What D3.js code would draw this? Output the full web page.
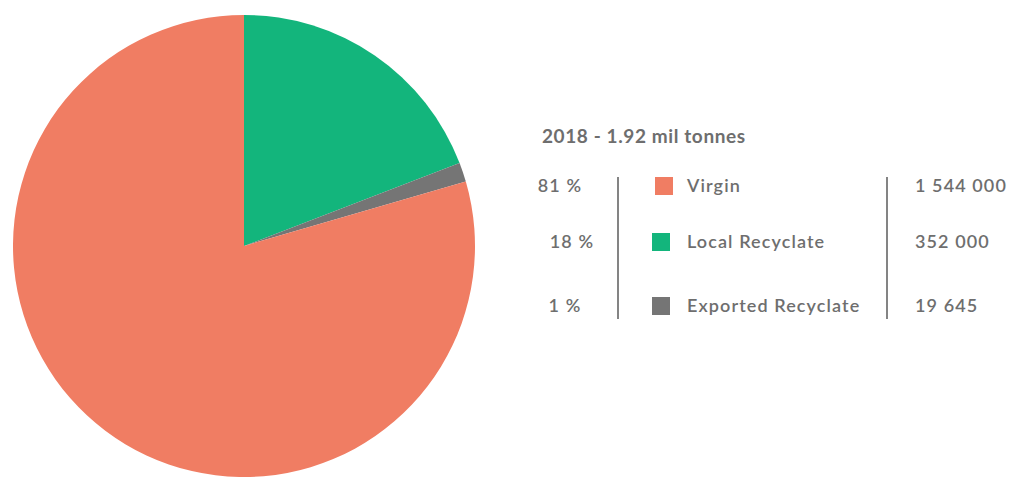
<!DOCTYPE html>
<html><head><meta charset="utf-8">
<script src="https://cdn.jsdelivr.net/npm/d3@7"></script>
<style>html,body{margin:0;padding:0;background:#fff;overflow:hidden}</style>
</head><body>
<svg id="c" width="1009" height="478"></svg>
<script>
// Data
const title = "2018 - 1.92 mil tonnes";
const categories = ["Virgin", "Local Recyclate", "Exported Recyclate"];
const percentLabels = ["81 %", "18 %", "1 %"];
const tonnes = [1544000, 352000, 19645];
// slice shares as drawn in the picture (clockwise from 12 o'clock: Local, Exported, Virgin)
const pieOrder = ["Local Recyclate", "Exported Recyclate", "Virgin"];
const pieShares = [19.15, 1.35, 79.5];
const colors = {"Virgin": "#f07d63", "Local Recyclate": "#13b57c", "Exported Recyclate": "#757575"};

// Layout
const cx = 244, cy = 246, r = 231;
const rowY = [186, 242, 306];
const pctX = [560, 572, 565];
const textColor = "#6e6e6e";
const fontFam = "Lato, 'Open Sans', sans-serif";

const svg = d3.select("#c");
const pie = d3.pie().sort(null).value(d => d.v);
const arc = d3.arc().innerRadius(0).outerRadius(r);
const pieData = pie(pieOrder.map((k, i) => ({k, v: pieShares[i]})));
svg.append("g").attr("transform", `translate(${cx},${cy})`)
  .selectAll("path").data(pieData).join("path")
  .attr("d", arc).attr("fill", d => colors[d.data.k]);

// Title
svg.append("text").attr("x", 542).attr("y", 143)
  .attr("font-family", fontFam).attr("font-weight", 700).attr("font-size", 19)
  .attr("letter-spacing", 0.6)
  .attr("fill", textColor).text(title);

const g = svg.append("g").attr("font-family", fontFam).attr("font-size", 18)
  .attr("font-weight", 600).attr("letter-spacing", 1.1).attr("fill", textColor);

categories.forEach((c, i) => {
  g.append("text").attr("x", pctX[i]).attr("y", rowY[i]).attr("dy", "0.35em")
    .attr("text-anchor", "middle").text(percentLabels[i]);
  g.append("rect").attr("x", i === 0 ? 655 : 652).attr("y", rowY[i] - 9)
    .attr("width", 18).attr("height", 18).attr("fill", colors[c]);
  g.append("text").attr("x", 687).attr("y", rowY[i]).attr("dy", "0.35em").text(c);
  g.append("text").attr("x", 915).attr("y", rowY[i]).attr("dy", "0.35em")
    .text(d3.format(",")(tonnes[i]).replace(/,/g, " "));
});

// Separator lines
[618, 887].forEach(x => {
  svg.append("line").attr("x1", x).attr("x2", x).attr("y1", 177).attr("y2", 319)
    .attr("stroke", "#777").attr("stroke-width", 1.8);
});
</script>
</body></html>
